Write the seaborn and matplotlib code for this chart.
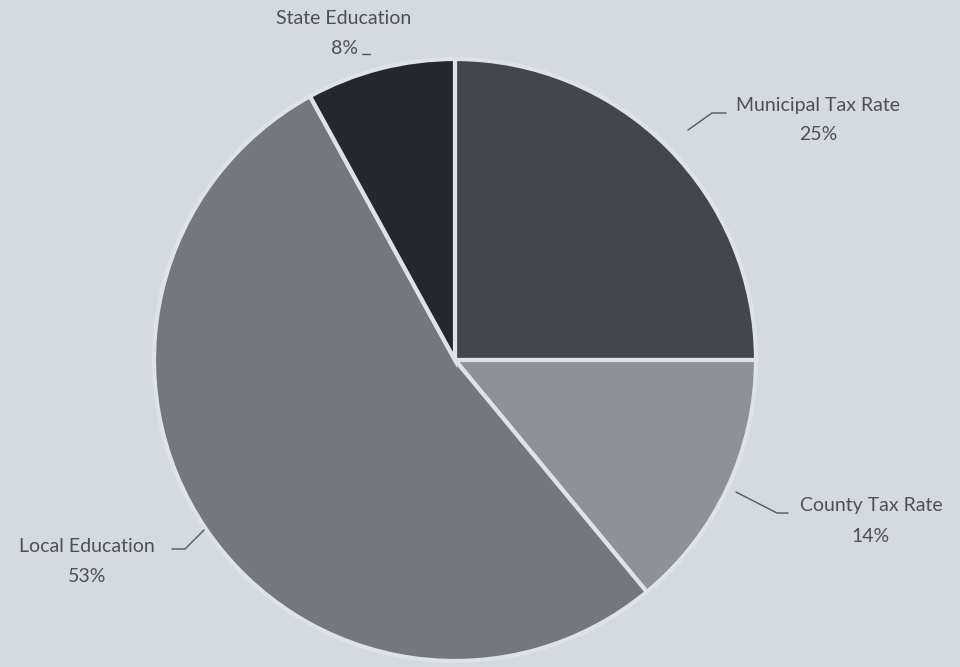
import numpy as np
import matplotlib
matplotlib.use("Agg")
import matplotlib.pyplot as plt
import seaborn as sns

# data
labels = ["Municipal Tax Rate", "County Tax Rate", "Local Education", "State Education"]
shares = [25, 14, 53, 8]
colors = ["#42474e", "#8b9299", "#71787e", "#24282d"]

sns.set_theme(style="white")
plt.rcParams["font.family"] = ["Lato", "DejaVu Sans"]

bg = "#d3dbe2"
W, H = 960, 667
fig = plt.figure(figsize=(9.6, 6.67), dpi=100, facecolor=bg)

ax = fig.add_axes([0, 0, 1, 1])
ax.set_facecolor(bg)
cx, cy, r = 455, 360, 301
wedges, _ = ax.pie(shares, colors=colors, startangle=90, counterclock=False,
                   center=(0, 0), radius=1, frame=True,
                   wedgeprops=dict(edgecolor="#dde3e8", linewidth=3))
ax.set_aspect("auto")
ax.set_xlim(-cx / r, (W - cx) / r)
ax.set_ylim((cy - H) / r, cy / r)
ax.axis("off")

# overlay axes in pixel coords (y down) for labels
ov = fig.add_axes([0, 0, 1, 1])
ov.set_xlim(0, W)
ov.set_ylim(H, 0)
ov.axis("off")
ov.patch.set_alpha(0)

txt = "#4f4e5a"
lc = "#555560"
spots = {
    "Municipal Tax Rate": ((818, 105), [(688, 130), (712, 113), (726, 113)]),
    "County Tax Rate": ((871, 506), [(736, 492), (777, 513), (788, 513)]),
    "Local Education": ((87, 546), [(204, 530), (185, 549), (172, 549)]),
    "State Education": ((344, 19), [(362, 54), (370, 54)]),
}
for lab, pct in zip(labels, shares):
    (tx, ty), line = spots[lab]
    ov.text(tx, ty, lab, ha="center", va="center", fontsize=14, color=txt)
    ov.text(tx, ty + 30, f"{pct}%", ha="center", va="center", fontsize=14, color=txt)
    ov.plot([p[0] for p in line], [p[1] for p in line], color=lc, lw=1)

fig.savefig("out.png", dpi=100, facecolor=bg)
